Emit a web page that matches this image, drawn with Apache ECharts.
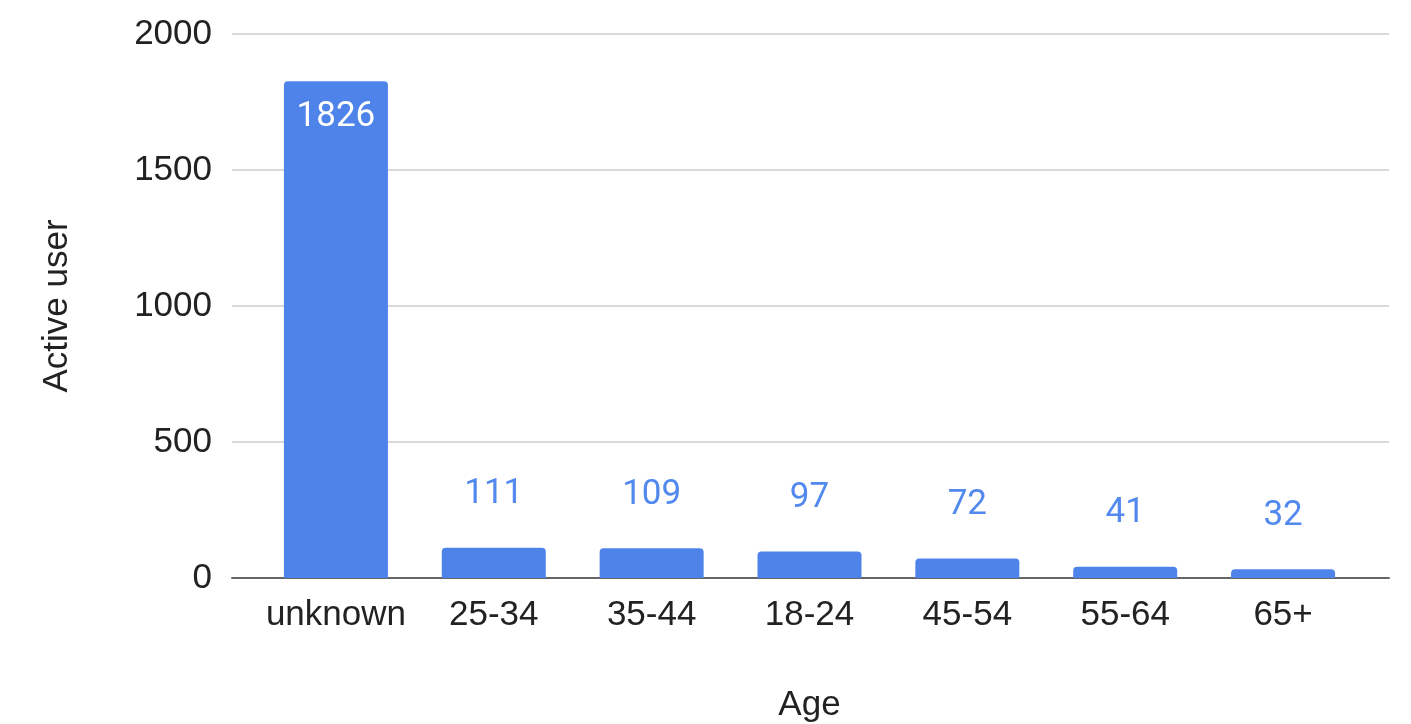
<!DOCTYPE html>
<html><head><meta charset="utf-8">
<script src="https://cdn.jsdelivr.net/npm/echarts@6/dist/echarts.min.js"></script>
<style>html,body{margin:0;padding:0;background:#fff}#c{width:1411px;height:724px}</style>
</head><body><div id="c"></div>
<script>
const categories = ['unknown','25-34','35-44','18-24','45-54','55-64','65+'];
const activeUsers = [1826,111,109,97,72,41,32];
const yTicks = [0,500,1000,1500,2000];

const chart = echarts.init(document.getElementById('c'));
const font = 'Liberation Sans, Arial, sans-serif';
chart.setOption({
  animation:false,
  grid:[
    {left:232,right:22,top:34,bottom:146,containLabel:false,outerBoundsMode:'none'},
    {left:257,right:49,top:34,bottom:146,containLabel:false,outerBoundsMode:'none'}
  ],
  xAxis:[
    {gridIndex:0,type:'value',min:0,max:1,axisLine:{show:true,lineStyle:{color:'#666',width:2}},axisTick:{show:false},axisLabel:{show:false},splitLine:{show:false}},
    {gridIndex:1,type:'category',data:categories,axisLine:{show:false},axisTick:{show:false},
     axisLabel:{color:'#222',fontSize:35,fontFamily:font,margin:20,interval:0},
     name:'Age',nameLocation:'middle',nameGap:110,nameTextStyle:{color:'#222',fontSize:35,fontFamily:font}}
  ],
  yAxis:[
    {gridIndex:0,type:'value',min:yTicks[0],max:yTicks[yTicks.length-1],interval:500,
     axisLine:{show:false},axisTick:{show:false},
     axisLabel:{color:'#222',fontSize:35,fontFamily:font,margin:20,formatter:v=>String(v)},
     splitLine:{lineStyle:{color:'#ccc',width:1.5}},
     name:'Active user',nameLocation:'middle',nameGap:157,nameTextStyle:{color:'#222',fontSize:35,fontFamily:font}},
    {gridIndex:1,type:'value',min:yTicks[0],max:yTicks[yTicks.length-1],show:false,splitLine:{show:false}}
  ],
  series:[{
    type:'bar',xAxisIndex:1,yAxisIndex:1,data:activeUsers.map((v,i)=>i===0?{value:v,label:{position:'insideTop',distance:18,color:'#fff'}}:v),
    barWidth:104,
    itemStyle:{color:'#4e83ea',borderRadius:[4,4,0,0]},
    label:{show:true,position:'top',distance:36,color:'#5289ee',fontSize:35,fontFamily:'Roboto, sans-serif'}
  }]
});
</script></body></html>
